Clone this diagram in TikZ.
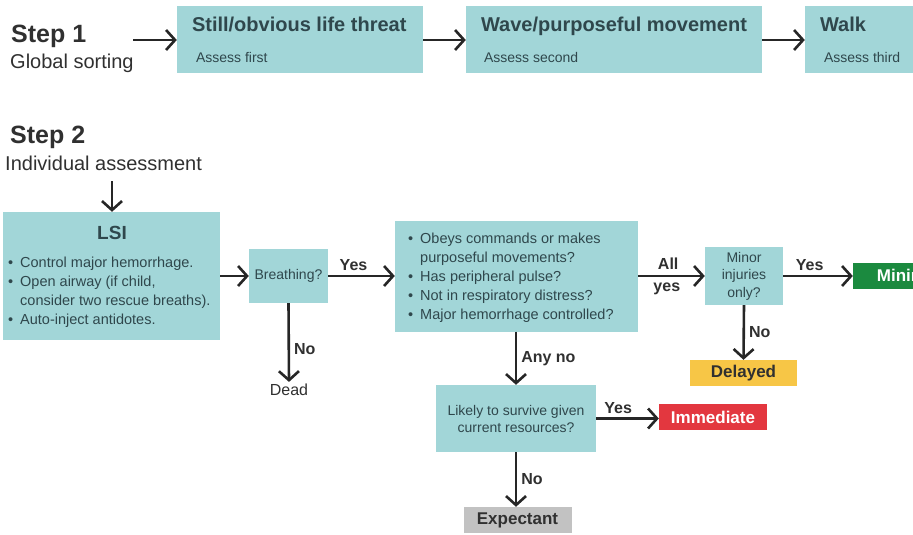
\documentclass[tikz,border=0pt]{standalone}
\usepackage{fontspec}
\setmainfont{Liberation Sans}
\usetikzlibrary{arrows.meta, positioning}
\definecolor{boxTeal}{HTML}{A2D6D8}
\definecolor{boxText}{HTML}{2F474C}
\definecolor{inkGray}{HTML}{303030}
\definecolor{tagGreen}{HTML}{1B8A3F}
\definecolor{tagYellow}{HTML}{F7C646}
\definecolor{tagRed}{HTML}{E3373F}
\definecolor{tagGray}{HTML}{C2C2C2}
\newcommand{\fsz}[2]{\fontsize{#1}{#2}\selectfont}
\newcommand{\bitem}{\makebox[12pt][l]{\textbullet}}
\newcommand{\boxline}[2]{\makebox[#1][l]{#2}}

\begin{document}
\begin{tikzpicture}[x=1pt, y=-1pt,
    tbox/.style={fill=boxTeal, text=boxText, inner sep=0pt},
    topbox/.style={tbox, minimum height=67pt, align=left, font=\fsz{20}{24}\bfseries},
    tag/.style={inner sep=0pt, minimum width=108pt, minimum height=26pt, font=\fsz{17}{20}\bfseries},
    arrow/.style={-{Straight Barb[length=9pt, width=20pt]}, line width=2.6pt, draw=black!85},
    lbl/.style={font=\fsz{16}{19}\bfseries, text=inkGray, inner sep=2pt},
]
    \useasboundingbox (0,0) rectangle (913,535);
    \clip (0,0) rectangle (913,535);

    % step 1: global sorting
    \node[anchor=base west, inner sep=0pt, font=\fsz{25}{30}\bfseries, text=inkGray] (step1) at (11,43) {Step 1};
    \node[anchor=base west, inner sep=0pt, font=\fsz{20}{24}, text=inkGray] (global) at (10,69) {Global sorting};
    \coordinate (s1out) at (133,40);

    \node[topbox, minimum width=246pt] (still) at (300,40)
        {\boxline{216pt}{Still/obvious life threat}\\[7pt]
         \boxline{216pt}{\fsz{14}{16}\mdseries\hspace*{4pt}Assess first}};
    \node[topbox, minimum width=296pt] (wave) at (614,40)
        {\boxline{266pt}{Wave/purposeful movement}\\[7pt]
         \boxline{266pt}{\fsz{14}{16}\mdseries\hspace*{3pt}Assess second}};
    \node[topbox, minimum width=200pt] (walk) at (905,40)
        {\boxline{170pt}{Walk}\\[7pt]
         \boxline{170pt}{\fsz{14}{16}\mdseries\hspace*{4pt}Assess third}};

    \draw[arrow] (s1out) -- (still.west);
    \draw[arrow] (still.east) -- (wave.west);
    \draw[arrow] (wave.east) -- (walk.west);

    % step 2: individual assessment
    \node[anchor=base west, inner sep=0pt, font=\fsz{25}{30}\bfseries, text=inkGray] (step2) at (10,143) {Step 2};
    \node[anchor=base west, inner sep=0pt, font=\fsz{20}{24}, text=inkGray] (indiv) at (5,170) {Individual assessment};
    \coordinate (s2out) at (112,181);

    \node[tbox, minimum width=217pt, minimum height=128pt] (lsi) at (111.5,276) {};
    \node[anchor=base, inner sep=0pt, font=\fsz{19}{22}\bfseries, text=boxText] (lsihead) at (112,239) {LSI};
    \node[anchor=north west, inner sep=0pt, align=left, font=\fsz{14.5}{19}, text=boxText] (lsilist) at (8,256.5)
        {\bitem Control major hemorrhage.\\
         \bitem Open airway (if child,\\
         \hspace*{12pt}consider two rescue breaths).\\
         \bitem Auto-inject antidotes.};

    \node[tbox, minimum width=79pt, minimum height=54pt, font=\fsz{14}{17}] (breath) at (288.5,276) {Breathing?};
    \node[font=\fsz{16}{19}, text=inkGray, inner sep=2pt] (dead) at (289,390) {Dead};

    \node[tbox, minimum width=243pt, minimum height=111pt] (obeys) at (516.5,276) {};
    \node[anchor=north west, inner sep=0pt, align=left, font=\fsz{14.5}{19}, text=boxText] (obeyslist) at (408,232.3)
        {\bitem Obeys commands or makes\\
         \hspace*{12pt}purposeful movements?\\
         \bitem Has peripheral pulse?\\
         \bitem Not in respiratory distress?\\
         \bitem Major hemorrhage controlled?};

    \node[tbox, minimum width=78pt, minimum height=58pt, align=center, font=\fsz{14}{17.5}] (minor) at (744,276)
        {Minor\\injuries\\only?};
    \node[tag, fill=tagGreen, text=white, minimum width=111pt] (minimal) at (908.5,275.5) {Minimal};
    \node[tag, fill=tagYellow, text=inkGray, minimum width=107pt] (delayed) at (743.5,373) {Delayed};

    \node[tbox, minimum width=160pt, minimum height=67pt, align=center, font=\fsz{14}{17}] (likely) at (516,418.5)
        {Likely to survive given\\current resources?};
    \node[tag, fill=tagRed, text=white] (immediate) at (713,417) {Immediate};
    \node[tag, fill=tagGray, text=inkGray] (expectant) at (517.5,520) {Expectant};

    \draw[arrow] (s2out) -- (s2out |- lsi.north);
    \draw[arrow] (lsi.east) -- (breath.west);
    \draw[arrow] (breath.east) -- (obeys.west) node[lbl, above=2pt, pos=0.38] {Yes};
    \draw[arrow] (breath.south) -- (dead.north) node[lbl, right=2pt, pos=0.58] {No};
    \draw[arrow] (obeys.east) -- (minor.west)
        node[lbl, above=3pt, pos=0.45] {All} node[lbl, below=4pt, pos=0.43] {yes};
    \draw[arrow] (minor.east) -- (minor.east -| minimal.west) node[lbl, above=2pt, pos=0.38] {Yes};
    \draw[arrow] (minor.south) -- (delayed.north) node[lbl, right=2pt, pos=0.5] {No};
    \draw[arrow] (obeys.south -| likely.north) -- (likely.north) node[lbl, right=2pt, pos=0.5] {Any no};
    \draw[arrow] (likely.east) -- (likely.east -| immediate.west) node[lbl, above=2pt, pos=0.35] {Yes};
    \draw[arrow] (likely.south) -- (likely.south |- expectant.north) node[lbl, right=2pt, pos=0.5] {No};
\end{tikzpicture}
\end{document}
